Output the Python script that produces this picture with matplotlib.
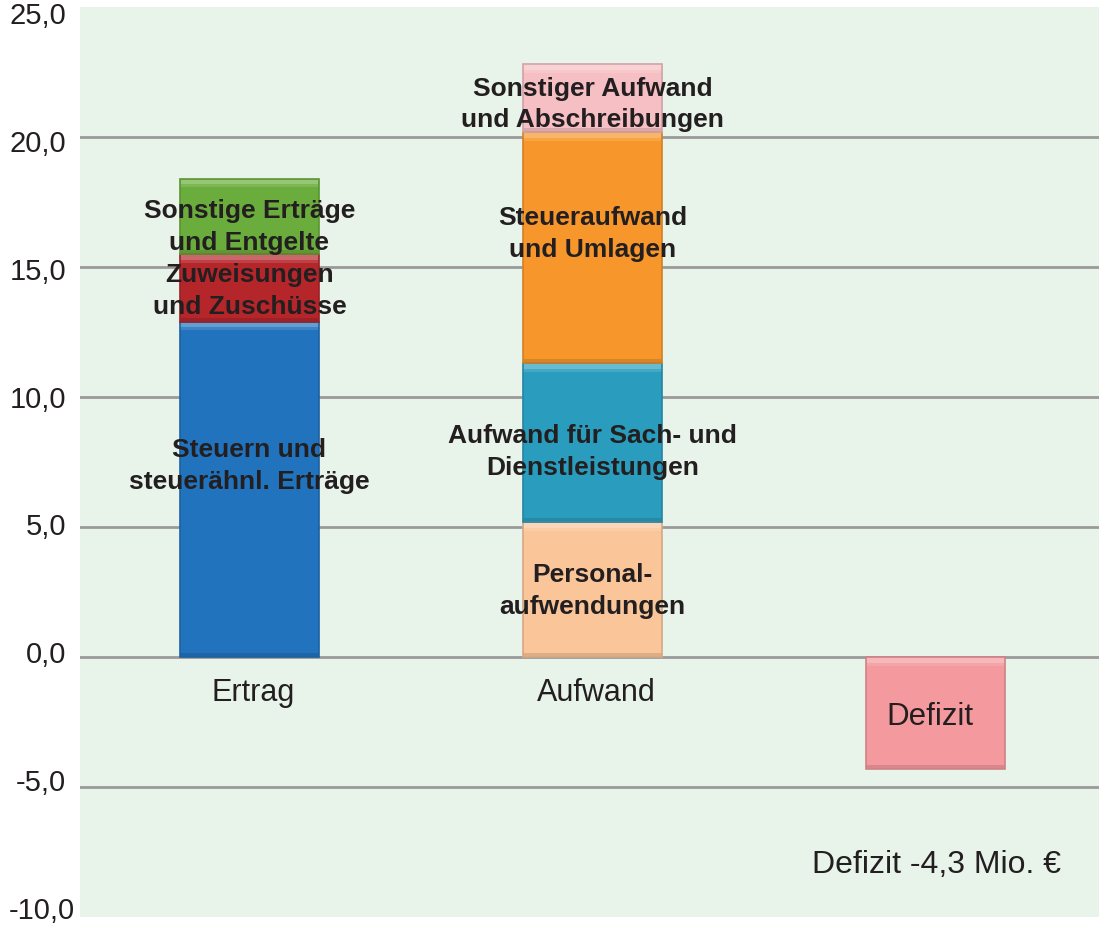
import matplotlib
matplotlib.use("Agg")
import matplotlib.pyplot as plt
import matplotlib.transforms as mtransforms
from matplotlib.colors import to_rgb

plt.rcParams['font.family'] = ['Liberation Sans', 'DejaVu Sans']

categories = ["Ertrag", "Aufwand", ""]
ertrag_labels = ["Steuern und\nsteuerähnl. Erträge", "Zuweisungen\nund Zuschüsse", "Sonstige Erträge\nund Entgelte"]
ertrag_values = [12.9, 2.6, 2.9]
aufwand_labels = ["Personal-\naufwendungen", "Aufwand für Sach- und\nDienstleistungen", "Steueraufwand\nund Umlagen", "Sonstiger Aufwand\nund Abschreibungen"]
aufwand_values = [5.2, 6.1, 8.9, 2.6]
defizit_value = -4.3
yticks = [25, 20, 15, 10, 5, 0, -5, -10]
ytick_labels = ["25,0", "20,0", "15,0", "10,0", "5,0", "0,0", "-5,0", "-10,0"]

ertrag_colors = ["#2173BE", "#B5262A", "#6AAD3C"]
aufwand_colors = ["#FBC59A", "#2A9DBF", "#F7962A", "#F6BFC3"]
defizit_color = "#F4999E"
text_color = "#231F20"

fig = plt.figure(figsize=(10.99, 9.27), dpi=100)
ax = fig.add_axes([80/1099, 10/927, 1019/1099, 910/927])
ax.set_facecolor("#E8F3EA")
fig.patch.set_facecolor("white")

width = 0.407
label_offsets_e = [0.95 - 0.05, -0.13, -0.4]
label_offsets_a = [-0.07, -0.35, 0.53, -0.25]

def lighten(c, f):
    r, g, b = to_rgb(c)
    return (r + (1 - r) * f, g + (1 - g) * f, b + (1 - b) * f)

def darken(c, f):
    r, g, b = to_rgb(c)
    return (r * (1 - f), g * (1 - f), b * (1 - f))

def draw_segment(x, bottom, v, c):
    ax.bar(x, v, width, bottom=bottom, color=c, linewidth=0, zorder=3)
    top = bottom + v
    lo, hi = min(bottom, top), max(bottom, top)
    # bevel look: soft highlight at top, shadow at bottom
    ax.bar(x, 0.22, width, bottom=hi - 0.22, color=lighten(c, 0.3), linewidth=0, zorder=3.5)
    ax.bar(x, 0.12, width, bottom=hi - 0.34, color=lighten(c, 0.12), linewidth=0, zorder=3.5)
    ax.bar(x, 0.15, width, bottom=lo, color=darken(c, 0.12), linewidth=0, zorder=3.5)
    ax.bar(x, hi - lo, width, bottom=lo, color="none", edgecolor=darken(c, 0.15),
           linewidth=1.2, zorder=4)

def draw_stack(x, values, colors, labels, offsets):
    bottom = 0
    for v, c, lab, off in zip(values, colors, labels, offsets):
        draw_segment(x, bottom, v, c)
        ax.text(x, bottom + v / 2 + off, lab, ha="center", va="center", fontsize=19,
                fontweight="bold", color=text_color, zorder=6, linespacing=1.42)
        bottom += v

draw_stack(0, ertrag_values, ertrag_colors, ertrag_labels, label_offsets_e)
draw_stack(1, aufwand_values, aufwand_colors, aufwand_labels, label_offsets_a)

draw_segment(2, 0, defizit_value, defizit_color)
ax.text(1.985, -2.3, "Defizit", ha="center", va="center", fontsize=22.5, color=text_color, zorder=6)
ax.text(2.003, -8.0, "Defizit -4,3 Mio. €", ha="center", va="center", fontsize=23, color=text_color, zorder=6)

for y in [-5, 0, 5, 10, 15, 20]:
    ax.axhline(y, color="#9A9A9A", linewidth=2, zorder=2)

ax.set_xlim(-0.494, 2.477)
ax.set_ylim(-10, 25)
ax.set_yticks([])
ax.set_xticks([])

# y tick labels: evenly spaced slightly compressed relative to grid (as in reference)
ytrans = mtransforms.blended_transform_factory(ax.transAxes, ax.transData)
for i, (yv, lab) in enumerate(zip(yticks, ytick_labels)):
    dy = (9 - 2.14 * i) / 100
    off = mtransforms.ScaledTranslation(0, -dy, fig.dpi_scale_trans)
    xr = -14 / 1019 if lab != "-10,0" else -5 / 1019
    ax.text(xr, yv, lab, ha="right", va="center", fontsize=21, color=text_color,
            transform=ytrans + off, clip_on=False)

for x, c in zip([0, 1], categories[:2]):
    ax.text(x + 0.01, -1.38, c, ha="center", va="center", fontsize=22, color=text_color, zorder=6)

for s in ax.spines.values():
    s.set_visible(False)

fig.savefig("out.png", dpi=100)
